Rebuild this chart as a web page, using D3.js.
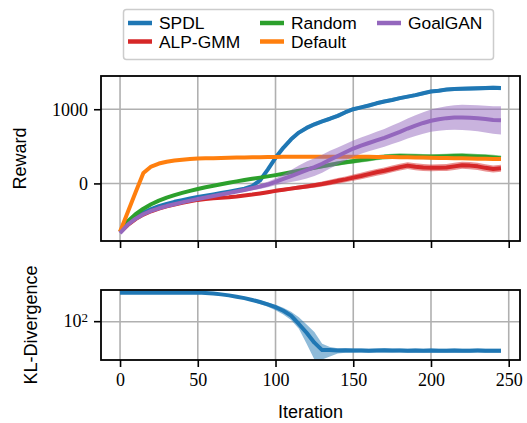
<!DOCTYPE html>
<html>
<head>
<meta charset="utf-8">
<script src="https://cdn.jsdelivr.net/npm/d3@7"></script>
<style>
  html, body { margin: 0; padding: 0; background: #fff; }
  svg { display: block; }
</style>
</head>
<body>
<svg id="chart" width="527" height="423"></svg>
<script>
// Training iterations at which every method was evaluated
const iterations = [0, 5, 10, 15, 20, 25, 30, 35, 40, 45, 50, 55, 60, 65, 70, 75, 80, 85, 90, 95,
  100, 105, 110, 115, 120, 125, 130, 135, 140, 145, 150, 155, 160, 165, 170, 175, 180, 185, 190, 195,
  200, 205, 210, 215, 220, 225, 230, 235, 240, 245];

// Mean reward per method
const spdlMean = [-650, -540, -460, -395, -345, -305, -275, -248, -225, -203, -182, -165, -148, -130, -112, -92, -70, -35, 40, 185,
  345, 480, 595, 685, 748, 797, 837, 872, 910, 960, 1000, 1025, 1050, 1080, 1105, 1125, 1150, 1170, 1190, 1215,
  1240, 1250, 1265, 1272, 1275, 1278, 1282, 1285, 1290, 1285];
const alpMean = [-660, -560, -480, -420, -375, -340, -310, -285, -262, -242, -222, -210, -200, -192, -185, -175, -162, -150, -135, -118,
  -100, -85, -70, -55, -40, -25, -8, 12, 35, 55, 78, 100, 125, 150, 170, 195, 220, 240, 225, 215,
  210, 212, 215, 230, 245, 240, 230, 210, 195, 205];
const randomMean = [-650, -510, -415, -340, -280, -232, -192, -158, -128, -100, -75, -52, -32, -12, 8, 28, 45, 62, 78, 95,
  112, 130, 150, 170, 190, 210, 230, 250, 268, 285, 300, 315, 330, 345, 358, 365, 370, 368, 365, 362,
  360, 362, 365, 370, 372, 368, 362, 358, 350, 340];
const defaultMean = [-650, -385, -120, 140, 228, 268, 292, 308, 320, 330, 336, 339, 341, 343, 346, 348, 350, 352, 354, 356,
  357, 358, 359, 360, 360, 360, 360, 360, 360, 360, 360, 359, 358, 357, 356, 355, 354, 352, 350, 348,
  346, 344, 342, 340, 338, 336, 334, 332, 330, 330];
const goalganMean = [-670, -555, -475, -415, -370, -335, -305, -280, -255, -232, -210, -190, -170, -150, -130, -110, -88, -65, -42, -15,
  20, 60, 100, 140, 180, 220, 265, 320, 370, 420, 470, 510, 545, 580, 615, 655, 695, 740, 780, 815,
  845, 865, 880, 888, 890, 885, 878, 868, 855, 850];

// Half-width of the shaded band around each mean
const spdlSpread = [8, 8, 8, 8, 8, 8, 8, 8, 8, 8, 8, 8, 9, 10, 10, 12, 14, 18, 25, 30,
  32, 32, 30, 30, 28, 28, 26, 26, 28, 28, 26, 26, 26, 26, 25, 25, 25, 25, 25, 25,
  26, 26, 26, 27, 27, 28, 28, 28, 28, 28];
const alpSpread = [8, 8, 8, 8, 8, 8, 8, 8, 9, 10, 10, 11, 12, 12, 13, 14, 15, 16, 18, 20,
  22, 24, 26, 28, 30, 32, 34, 36, 38, 40, 42, 44, 45, 46, 46, 46, 46, 46, 46, 46,
  46, 46, 47, 48, 48, 48, 48, 48, 48, 48];
const randomSpread = [6, 6, 6, 6, 6, 7, 7, 7, 8, 8, 8, 9, 10, 10, 11, 12, 12, 13, 14, 15,
  16, 17, 18, 20, 22, 24, 26, 28, 30, 30, 32, 32, 34, 34, 35, 35, 36, 36, 36, 36,
  36, 36, 36, 36, 36, 36, 36, 36, 36, 36];
const defaultSpread = [5, 5, 5, 5, 5, 5, 5, 5, 5, 5, 5, 5, 5, 5, 5, 5, 5, 5, 5, 5,
  5, 5, 5, 5, 5, 5, 5, 5, 5, 5, 5, 5, 5, 5, 5, 5, 5, 5, 5, 5,
  5, 5, 5, 5, 5, 5, 5, 5, 5, 5];
const goalganSpread = [8, 8, 8, 8, 10, 10, 10, 12, 12, 12, 14, 15, 16, 18, 20, 22, 25, 28, 32, 38,
  45, 60, 80, 100, 115, 120, 120, 120, 115, 110, 110, 110, 110, 115, 120, 125, 130, 135, 140, 145,
  150, 155, 160, 165, 170, 172, 175, 180, 185, 190];

// KL divergence of the SPDL context distribution (mean and band)
const klMean = [380, 380, 380, 380, 380, 380, 380, 380, 380, 381, 382, 376, 366, 352, 336, 316, 296, 272, 248, 222,
  195, 165, 132, 90, 60, 38, 27, 27, 26.5, 26.8, 26.5, 26.6, 26.3, 26.5, 26.7, 26.4, 26.5, 26.2, 26.4, 26.3,
  26.5, 26.2, 26.3, 26.4, 26.2, 26.3, 26.4, 26.3, 26.2, 26.3];
const klLow = [372, 372, 372, 372, 372, 372, 372, 372, 372, 373, 374, 362, 350, 335, 318, 298, 277, 252, 226, 198,
  170, 140, 108, 72, 36, 17.5, 17.5, 20, 23, 24, 24, 24.2, 24, 24.1, 24.3, 24, 24.2, 24, 24.1, 24,
  24.2, 24, 24, 24.1, 24, 24, 24.1, 24, 24, 24];
const klHigh = [388, 388, 388, 388, 388, 388, 388, 388, 388, 389, 390, 388, 380, 368, 352, 334, 314, 292, 268, 243,
  218, 190, 158, 122, 88, 62, 36, 31, 29.5, 29.2, 29, 29.2, 28.8, 29, 29.1, 28.8, 29, 28.7, 28.9, 28.8,
  29, 28.7, 28.8, 28.9, 28.7, 28.8, 28.9, 28.8, 28.7, 28.8];

const xTicks = [0, 50, 100, 150, 200, 250];
const rewardTicks = [0, 1000];
const klTicks = [100];

const methods = [
  { name: "SPDL", color: "#1f77b4", mean: spdlMean, spread: spdlSpread },
  { name: "ALP-GMM", color: "#d62728", mean: alpMean, spread: alpSpread },
  { name: "Random", color: "#2ca02c", mean: randomMean, spread: randomSpread },
  { name: "Default", color: "#ff7f0e", mean: defaultMean, spread: defaultSpread },
  { name: "GoalGAN", color: "#9467bd", mean: goalganMean, spread: goalganSpread }
];

const svg = d3.select("#chart");
const serif = "'Liberation Serif', 'DejaVu Serif', serif";
const sans = "'Liberation Sans', Arial, Helvetica, sans-serif";

const left = 101, right = 520;
const top1 = 76, bottom1 = 241;
const top2 = 290, bottom2 = 360;

const x = d3.scaleLinear().domain([-12.25, 257.25]).range([left, right]);
const yR = d3.scaleLinear().domain([-776, 1448]).range([bottom1, top1]);
const yK = d3.scaleLog().domain([17.1, 430.5]).range([bottom2, top2]);

const gridColor = "#b0b0b0";

function drawGrid(g, yScale, yt, y0, y1) {
  g.selectAll("line.gx").data(xTicks).join("line")
    .attr("x1", d => x(d)).attr("x2", d => x(d))
    .attr("y1", y0).attr("y2", y1)
    .attr("stroke", gridColor).attr("stroke-width", 1.6);
  g.selectAll("line.gy").data(yt).join("line")
    .attr("x1", left).attr("x2", right)
    .attr("y1", d => yScale(d)).attr("y2", d => yScale(d))
    .attr("stroke", gridColor).attr("stroke-width", 1.6);
}

// ---------- Reward panel ----------
const g1 = svg.append("g");
drawGrid(g1.append("g"), yR, rewardTicks, top1, bottom1);

svg.append("clipPath").attr("id", "clip1")
  .append("rect").attr("x", left).attr("y", top1).attr("width", right - left).attr("height", bottom1 - top1);

const plot1 = g1.append("g").attr("clip-path", "url(#clip1)");
methods.forEach(m => {
  const pts = iterations.map((it, i) => ({ it, m: m.mean[i], s: m.spread[i] }));
  plot1.append("path").datum(pts)
    .attr("d", d3.area().x(d => x(d.it)).y0(d => yR(d.m - d.s)).y1(d => yR(d.m + d.s)))
    .attr("fill", m.color).attr("fill-opacity", 0.5).attr("stroke", "none");
  plot1.append("path").datum(pts)
    .attr("d", d3.line().x(d => x(d.it)).y(d => yR(d.m)))
    .attr("fill", "none").attr("stroke", m.color).attr("stroke-width", 4)
    .attr("stroke-linejoin", "round").attr("stroke-linecap", "butt");
});

// axes for reward panel
const axX1 = d3.axisBottom(x).tickValues(xTicks).tickFormat("").tickSize(7).tickSizeOuter(0);
g1.append("g").attr("transform", `translate(0,${bottom1})`).call(axX1)
  .call(a => a.select(".domain").remove())
  .call(a => a.selectAll("line").attr("stroke", "#000").attr("stroke-width", 1.6));
const axY1 = d3.axisLeft(yR).tickValues(rewardTicks).tickFormat(d3.format("d")).tickSize(7).tickPadding(6).tickSizeOuter(0);
g1.append("g").attr("transform", `translate(${left},0)`).call(axY1)
  .call(a => a.select(".domain").remove())
  .call(a => a.selectAll("line").attr("stroke", "#000").attr("stroke-width", 1.6))
  .call(a => a.selectAll("text").attr("font-family", serif).attr("font-size", 18).attr("fill", "#000"));
g1.append("rect").attr("x", left).attr("y", top1).attr("width", right - left).attr("height", bottom1 - top1)
  .attr("fill", "none").attr("stroke", "#000").attr("stroke-width", 1.8);

svg.append("text").attr("transform", `translate(26,${(top1 + bottom1) / 2}) rotate(-90)`)
  .attr("text-anchor", "middle").attr("font-family", sans).attr("font-size", 18).text("Reward");

// ---------- KL panel ----------
const g2 = svg.append("g");
drawGrid(g2.append("g"), yK, klTicks, top2, bottom2);
svg.append("clipPath").attr("id", "clip2")
  .append("rect").attr("x", left).attr("y", top2).attr("width", right - left).attr("height", bottom2 - top2);
const plot2 = g2.append("g").attr("clip-path", "url(#clip2)");
const klPts = iterations.map((it, i) => ({ it, m: klMean[i], lo: klLow[i], hi: klHigh[i] }));
plot2.append("path").datum(klPts)
  .attr("d", d3.area().x(d => x(d.it)).y0(d => yK(d.lo)).y1(d => yK(d.hi)))
  .attr("fill", "#1f77b4").attr("fill-opacity", 0.5);
plot2.append("path").datum(klPts)
  .attr("d", d3.line().x(d => x(d.it)).y(d => yK(d.m)))
  .attr("fill", "none").attr("stroke", "#1f77b4").attr("stroke-width", 4).attr("stroke-linejoin", "round");

const axX2 = d3.axisBottom(x).tickValues(xTicks).tickFormat(d3.format("d")).tickSize(7).tickPadding(6).tickSizeOuter(0);
g2.append("g").attr("transform", `translate(0,${bottom2})`).call(axX2)
  .call(a => a.select(".domain").remove())
  .call(a => a.selectAll("line").attr("stroke", "#000").attr("stroke-width", 1.6))
  .call(a => a.selectAll("text").attr("font-family", serif).attr("font-size", 18).attr("fill", "#000"));

// log-scale tick on the left, labelled as a power of ten
const axY2 = g2.append("g").attr("transform", `translate(${left},0)`);
klTicks.forEach(t => {
  axY2.append("line").attr("x1", -7).attr("x2", 0).attr("y1", yK(t)).attr("y2", yK(t))
    .attr("stroke", "#000").attr("stroke-width", 1.6);
  const lab = axY2.append("text").attr("x", -13).attr("y", yK(t)).attr("dy", "0.32em")
    .attr("text-anchor", "end").attr("font-family", serif).attr("font-size", 18);
  lab.append("tspan").text("10");
  lab.append("tspan").attr("dy", "-0.45em").attr("font-size", 13).text(Math.round(Math.log10(t)));
});
g2.append("rect").attr("x", left).attr("y", top2).attr("width", right - left).attr("height", bottom2 - top2)
  .attr("fill", "none").attr("stroke", "#000").attr("stroke-width", 1.8);

svg.append("text").attr("transform", `translate(37,${(top2 + bottom2) / 2}) rotate(-90)`)
  .attr("text-anchor", "middle").attr("font-family", sans).attr("font-size", 18).text("KL-Divergence");
svg.append("text").attr("x", (left + right) / 2).attr("y", 418)
  .attr("text-anchor", "middle").attr("font-family", sans).attr("font-size", 18).text("Iteration");

// ---------- Legend ----------
const legend = svg.append("g");
legend.append("rect").attr("x", 123.5).attr("y", 9.5).attr("width", 370).attr("height", 50)
  .attr("rx", 3).attr("fill", "#fff").attr("fill-opacity", 0.8)
  .attr("stroke", "#cccccc").attr("stroke-width", 1.5);
const colX = [128, 260, 377];
const rowY = [23, 41.5];
methods.forEach((m, i) => {
  const col = Math.floor(i / 2), row = i % 2;
  const gx = colX[col], gy = rowY[row];
  legend.append("line").attr("x1", gx).attr("x2", gx + 24).attr("y1", gy).attr("y2", gy)
    .attr("stroke", m.color).attr("stroke-width", 4.5);
  legend.append("text").attr("x", gx + 31).attr("y", gy + 6.2)
    .attr("font-family", sans).attr("font-size", 17.4).text(m.name);
});
</script>
</body>
</html>
